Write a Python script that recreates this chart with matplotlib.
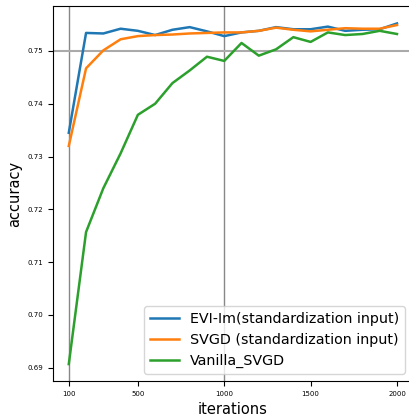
import matplotlib
matplotlib.use("Agg")
import matplotlib.pyplot as plt
import numpy as np

iterations = np.arange(100, 2001, 100)

evi_im = [0.7345, 0.7534, 0.7533, 0.7542, 0.7538, 0.7530, 0.7540, 0.7545, 0.7537, 0.7528,
          0.7535, 0.7538, 0.7545, 0.7541, 0.7541, 0.7546, 0.7538, 0.7540, 0.7541, 0.7552]
svgd_std = [0.7320, 0.7467, 0.7501, 0.7522, 0.7528, 0.7530, 0.7531, 0.7533, 0.7534, 0.7535,
            0.7535, 0.7538, 0.7544, 0.7540, 0.7537, 0.7540, 0.7543, 0.7542, 0.7542, 0.7549]
vanilla_svgd = [0.6907, 0.7157, 0.7240, 0.7306, 0.7379, 0.7400, 0.7439, 0.7463, 0.7489, 0.7481,
                0.7515, 0.7491, 0.7503, 0.7526, 0.7517, 0.7535, 0.7530, 0.7532, 0.7538, 0.7532]

labels = ["EVI-Im(standardization input)", "SVGD (standardization input)", "Vanilla_SVGD"]
xticks = [100, 500, 1000, 1500, 2000]
yticks = [0.69, 0.70, 0.71, 0.72, 0.73, 0.74, 0.75]

fig = plt.figure(figsize=(4.10, 4.17), dpi=100)
ax = fig.add_axes([0.129, 0.0863, 0.878, 0.8993])

ax.axvline(100, color="#888888", linewidth=1.0, zorder=1)
ax.axvline(1000, color="#888888", linewidth=1.0, zorder=1)
ax.axhline(0.75, color="#aaaaaa", linewidth=1.5, zorder=1)

ax.plot(iterations, evi_im, color="#1f77b4", linewidth=1.8, label=labels[0])
ax.plot(iterations, svgd_std, color="#ff7f0e", linewidth=1.8, label=labels[1])
ax.plot(iterations, vanilla_svgd, color="#2ca02c", linewidth=1.8, label=labels[2])

ax.set_xlim(8, 2092)
ax.set_ylim(0.6875, 0.7585)
ax.set_xticks(xticks)
ax.set_xticklabels([str(t) for t in xticks])
ax.set_yticks(yticks)
ax.set_yticklabels([f"{t:.2f}" for t in yticks])
ax.tick_params(labelsize=5)

ax.set_xlabel("iterations", fontsize=10.5, labelpad=4)
ax.set_ylabel("accuracy", fontsize=10.5)
ax.legend(loc="lower right", fontsize=10.3, bbox_to_anchor=(0.998, 0.0))

fig.savefig("out.png", dpi=100)
